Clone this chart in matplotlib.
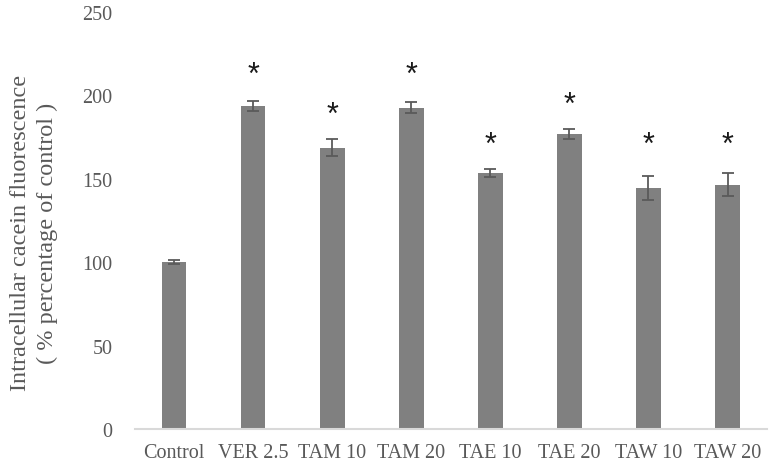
import matplotlib
matplotlib.use('Agg')
import matplotlib.pyplot as plt
import numpy as np

groups = ['Control', 'VER 2.5', 'TAM 10', 'TAM 20', 'TAE 10', 'TAE 20', 'TAW 10', 'TAW 20']
means = [100, 193.5, 168.5, 192.5, 153.3, 177, 144.5, 146.5]
errors = [1, 3.2, 5, 3.2, 2.5, 3, 7.4, 6.7]
star_y = [None, 212, 188, 212, 170, 194, 170, 170]

plt.rcParams['font.family'] = ['Liberation Serif', 'DejaVu Serif']

fig = plt.figure(figsize=(7.74, 4.64), dpi=100)
ax = fig.add_axes([0.174, 0.0733, 0.817, 0.899])

x = np.arange(len(groups))
ax.bar(x, means, width=0.31, color='#808080', zorder=2)
ax.errorbar(x, means, yerr=errors, fmt='none', ecolor='#5a5a5a',
            elinewidth=1.3, capsize=4.5, capthick=1.3, zorder=3)

for xi, sy in zip(x, star_y):
    if sy is not None:
        ax.text(xi, sy, '*', ha='center', va='center', fontsize=22,
                family='Liberation Sans', color='#1a1a1a')

ax.set_xlim(-0.5, len(groups) - 0.5)
ax.set_ylim(0, 250)
ax.set_yticks([0, 50, 100, 150, 200, 250])
ax.set_xticks(x)
ax.set_xticklabels(groups)
ax.tick_params(axis='both', length=0, labelsize=14.5, colors='#595959')
ax.tick_params(axis='y', pad=16)
ax.tick_params(axis='x', pad=10)

for s in ['top', 'right', 'left']:
    ax.spines[s].set_visible(False)
ax.spines['bottom'].set_color('#d9d9d9')
ax.spines['bottom'].set_linewidth(1.5)

fig.text(0.026, 0.498, 'Intracellular cacein fluorescence', rotation=90,
         ha='center', va='center', fontsize=17.5, color='#595959')
fig.text(0.061, 0.498, '( % percentage of control )', rotation=90,
         ha='center', va='center', fontsize=17.5, color='#595959')

fig.savefig('out.png', dpi=100)
